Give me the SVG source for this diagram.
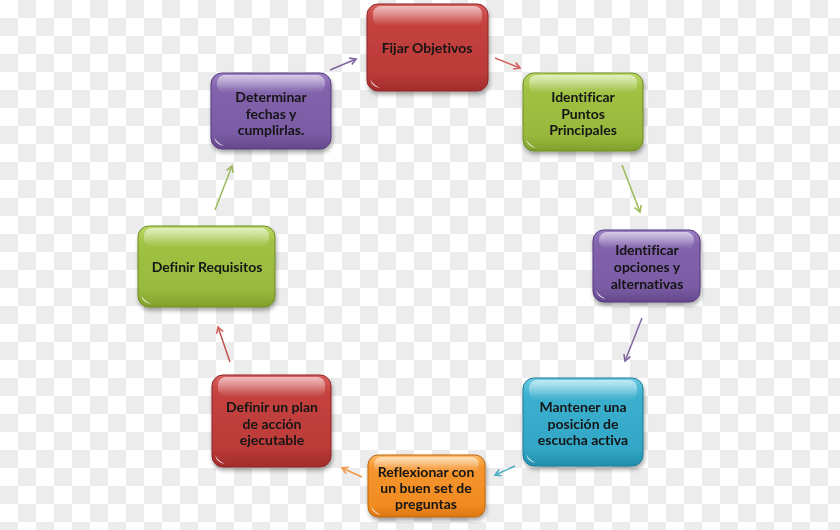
<svg xmlns="http://www.w3.org/2000/svg" width="840" height="530" viewBox="0 0 840 530">
<defs>
  <pattern id="checker" width="36" height="36" patternUnits="userSpaceOnUse">
    <rect width="36" height="36" fill="#ffffff"/>
    <rect x="18" y="0" width="18" height="18" fill="#ececec"/>
    <rect x="0" y="18" width="18" height="18" fill="#ececec"/>
  </pattern>
  <filter id="shadow" x="-10%" y="-10%" width="125%" height="130%">
    <feGaussianBlur in="SourceAlpha" stdDeviation="2"/>
    <feOffset dx="1" dy="3" result="b"/>
    <feComponentTransfer><feFuncA type="linear" slope="0.35"/></feComponentTransfer>
    <feMerge><feMergeNode/><feMergeNode in="SourceGraphic"/></feMerge>
  </filter>
  <linearGradient id="gR" x1="0" y1="0" x2="0" y2="1">
    <stop offset="0" stop-color="#d9605e"/><stop offset="0.2" stop-color="#c4423f"/><stop offset="0.8" stop-color="#bb3a38"/><stop offset="1" stop-color="#a22c2b"/>
  </linearGradient>
  <linearGradient id="gG" x1="0" y1="0" x2="0" y2="1">
    <stop offset="0" stop-color="#bcd96a"/><stop offset="0.2" stop-color="#a0c244"/><stop offset="0.8" stop-color="#97b83c"/><stop offset="1" stop-color="#80a02c"/>
  </linearGradient>
  <linearGradient id="gP" x1="0" y1="0" x2="0" y2="1">
    <stop offset="0" stop-color="#9c80c4"/><stop offset="0.2" stop-color="#8263ac"/><stop offset="0.8" stop-color="#7a5ba4"/><stop offset="1" stop-color="#64488c"/>
  </linearGradient>
  <linearGradient id="gT" x1="0" y1="0" x2="0" y2="1">
    <stop offset="0" stop-color="#6ccbe4"/><stop offset="0.2" stop-color="#3cb0cf"/><stop offset="0.8" stop-color="#33a6c6"/><stop offset="1" stop-color="#238fad"/>
  </linearGradient>
  <linearGradient id="gO" x1="0" y1="0" x2="0" y2="1">
    <stop offset="0" stop-color="#fcb862"/><stop offset="0.2" stop-color="#f5952e"/><stop offset="0.8" stop-color="#f18b22"/><stop offset="1" stop-color="#de7610"/>
  </linearGradient>
  <linearGradient id="gloss" x1="0" y1="0" x2="0" y2="1">
    <stop offset="0" stop-color="#ffffff" stop-opacity="0.6"/><stop offset="1" stop-color="#ffffff" stop-opacity="0"/>
  </linearGradient>
  <marker id="aR" markerWidth="10" markerHeight="10" refX="7" refY="4" orient="auto" markerUnits="userSpaceOnUse"><path d="M1,0.5 L7,4 L1,7.5" fill="none" stroke="#d4605e" stroke-width="1.6"/></marker>
  <marker id="aG" markerWidth="10" markerHeight="10" refX="7" refY="4" orient="auto" markerUnits="userSpaceOnUse"><path d="M1,0.5 L7,4 L1,7.5" fill="none" stroke="#9bbb59" stroke-width="1.6"/></marker>
  <marker id="aP" markerWidth="10" markerHeight="10" refX="7" refY="4" orient="auto" markerUnits="userSpaceOnUse"><path d="M1,0.5 L7,4 L1,7.5" fill="none" stroke="#8064a2" stroke-width="1.6"/></marker>
  <marker id="aT" markerWidth="10" markerHeight="10" refX="7" refY="4" orient="auto" markerUnits="userSpaceOnUse"><path d="M1,0.5 L7,4 L1,7.5" fill="none" stroke="#4bacc6" stroke-width="1.6"/></marker>
  <marker id="aO" markerWidth="10" markerHeight="10" refX="7" refY="4" orient="auto" markerUnits="userSpaceOnUse"><path d="M1,0.5 L7,4 L1,7.5" fill="none" stroke="#f79646" stroke-width="1.6"/></marker>
</defs>
<style>
  .box { filter: url(#shadow); }
  .r { fill: url(#gR); stroke: #8d2626; }
  .g { fill: url(#gG); stroke: #6e8c24; }
  .p { fill: url(#gP); stroke: #55397c; }
  .t { fill: url(#gT); stroke: #1e7a94; }
  .o { fill: url(#gO); stroke: #bd650c; }
  .body { stroke-width: 1; }
  .gl { fill: url(#gloss); }
  .dot { fill: #ffffff; opacity: 0.85; }
  text { font-family: Lato, "Open Sans", "Liberation Sans", sans-serif; font-weight: bold; font-size: 14px; fill: #141414; text-anchor: middle; font-variant-ligatures: none; }
  .c line { stroke-width: 1.5; fill: none; }
</style>
<rect width="840" height="530" fill="url(#checker)"/>

<g id="connectors" class="c">
  <line x1="495" y1="58" x2="520" y2="68" stroke="#d4605e" marker-end="url(#aR)"/>
  <line x1="622" y1="165" x2="640" y2="212" stroke="#9bbb59" marker-end="url(#aG)"/>
  <line x1="642" y1="318" x2="625" y2="361" stroke="#8064a2" marker-end="url(#aP)"/>
  <line x1="515" y1="466" x2="495" y2="475" stroke="#4bacc6" marker-end="url(#aT)"/>
  <line x1="362" y1="477" x2="342" y2="468" stroke="#f79646" marker-end="url(#aO)"/>
  <line x1="230" y1="362" x2="218" y2="327" stroke="#c0504d" marker-end="url(#aR)"/>
  <line x1="215" y1="210" x2="232" y2="166" stroke="#9bbb59" marker-end="url(#aG)"/>
  <line x1="330" y1="70" x2="356" y2="59" stroke="#8064a2" marker-end="url(#aP)"/>
</g>

<g id="n1" class="box">
  <rect class="body r" x="367" y="4" width="121" height="87" rx="11"/>
  <rect class="gl" x="373" y="6" width="109" height="20" rx="8"/>
  <path class="dot" d="M370,79 q2,8 10,9 q-7,-3 -10,-9z"/>
  <text x="427" y="53">Fijar Objetivos</text>
</g>
<g id="n2" class="box">
  <rect class="body g" x="523" y="73" width="120" height="78" rx="11"/>
  <rect class="gl" x="529" y="75" width="108" height="18" rx="8"/>
  <path class="dot" d="M526,139 q2,8 10,9 q-7,-3 -10,-9z"/>
  <text x="583" y="102">Identificar</text>
  <text x="583" y="118.5">Puntos</text>
  <text x="583" y="135">Principales</text>
</g>
<g id="n3" class="box">
  <rect class="body p" x="211" y="73" width="120" height="76" rx="11"/>
  <rect class="gl" x="217" y="75" width="108" height="18" rx="8"/>
  <path class="dot" d="M214,137 q2,8 10,9 q-7,-3 -10,-9z"/>
  <text x="271" y="102">Determinar</text>
  <text x="271" y="118.5">fechas y</text>
  <text x="271" y="135">cumplirlas.</text>
</g>
<g id="n4" class="box">
  <rect class="body p" x="593" y="230" width="107" height="72" rx="11"/>
  <rect class="gl" x="599" y="232" width="95" height="17" rx="8"/>
  <path class="dot" d="M596,290 q2,8 10,9 q-7,-3 -10,-9z"/>
  <text x="647" y="255">Identificar</text>
  <text x="647" y="272">opciones y</text>
  <text x="647" y="289">alternativas</text>
</g>
<g id="n5" class="box">
  <rect class="body g" x="138" y="226" width="137" height="81" rx="11"/>
  <rect class="gl" x="144" y="228" width="125" height="19" rx="8"/>
  <path class="dot" d="M141,295 q2,8 10,9 q-7,-3 -10,-9z"/>
  <text x="207" y="272">Definir Requisitos</text>
</g>
<g id="n6" class="box">
  <rect class="body t" x="523" y="378" width="120" height="88" rx="11"/>
  <rect class="gl" x="529" y="380" width="108" height="20" rx="8"/>
  <path class="dot" d="M526,454 q2,8 10,9 q-7,-3 -10,-9z"/>
  <text x="583" y="412">Mantener una</text>
  <text x="583" y="428.5">posición de</text>
  <text x="583" y="445">escucha activa</text>
</g>
<g id="n7" class="box">
  <rect class="body r" x="212" y="375" width="119" height="92" rx="11"/>
  <rect class="gl" x="218" y="377" width="107" height="20" rx="8"/>
  <path class="dot" d="M215,455 q2,8 10,9 q-7,-3 -10,-9z"/>
  <text x="272" y="412">Definir un plan</text>
  <text x="272" y="428.5">de acción</text>
  <text x="272" y="445">ejecutable</text>
</g>
<g id="n8" class="box">
  <rect class="body o" x="368" y="455" width="117" height="62" rx="10"/>
  <rect class="gl" x="374" y="457" width="105" height="15" rx="7"/>
  <path class="dot" d="M371,506 q2,8 10,9 q-7,-3 -10,-9z"/>
  <text x="426" y="477">Reflexionar con</text>
  <text x="426" y="493">un buen set de</text>
  <text x="426" y="509">preguntas</text>
</g>
</svg>
